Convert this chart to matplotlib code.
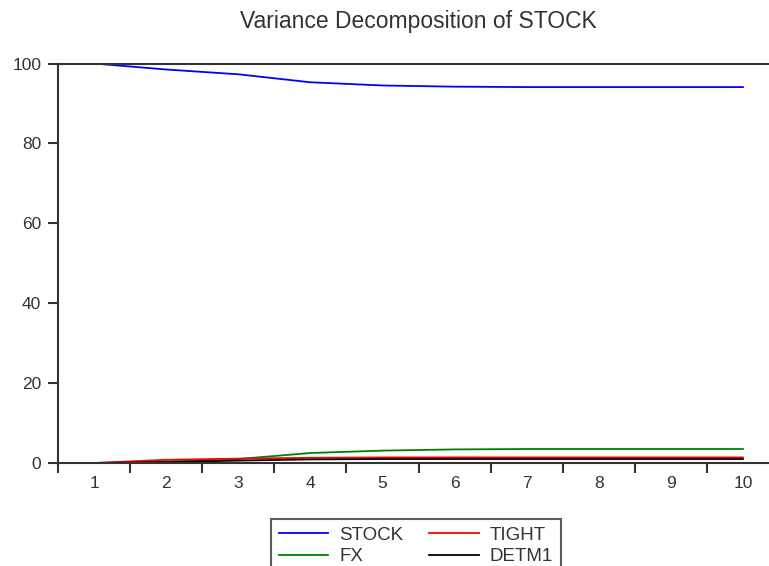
import numpy as np
import matplotlib
matplotlib.use('Agg')
import matplotlib.pyplot as plt
from matplotlib.ticker import FixedLocator, NullFormatter, FixedFormatter

plt.rcParams['font.family'] = ['Liberation Sans', 'DejaVu Sans']

periods = [1, 2, 3, 4, 5, 6, 7, 8, 9, 10]
stock = [100.0, 98.5, 97.3, 95.3, 94.5, 94.2, 94.1, 94.1, 94.1, 94.1]
fx = [0.0, 0.4, 1.0, 2.5, 3.1, 3.4, 3.5, 3.5, 3.5, 3.5]
tight = [0.0, 0.8, 1.1, 1.3, 1.4, 1.4, 1.4, 1.4, 1.4, 1.4]
detm1 = [0.0, 0.2, 0.6, 0.9, 1.0, 1.0, 1.0, 1.0, 1.0, 1.0]

series = [('STOCK', stock, '#0000ff'),
          ('FX', fx, '#008000'),
          ('TIGHT', tight, '#ff0000'),
          ('DETM1', detm1, '#000000')]

W, H = 769, 566
fig = plt.figure(figsize=(W / 100, H / 100), dpi=100)
ax = fig.add_axes([58 / W, 1 - 463 / H, (779 - 58) / W, (463 - 63.5) / H])

handles = []
for name, vals, col in series:
    ln, = ax.plot(periods, vals, color=col, lw=1.3, label=name)
    handles.append(ln)

ax.set_xlim(0.5, 10.5)
ax.set_ylim(0, 100)

# ticks sit between periods, labels sit on the periods
ax.xaxis.set_major_locator(FixedLocator(np.arange(0.5, 11, 1.0)))
ax.xaxis.set_major_formatter(NullFormatter())
ax.xaxis.set_minor_locator(FixedLocator(periods))
ax.xaxis.set_minor_formatter(FixedFormatter([str(p) for p in periods]))
ax.set_yticks([0, 20, 40, 60, 80, 100])

txt = '#333333'
ax.tick_params(axis='x', which='major', direction='out', length=7, width=1.5, color='#333333')
ax.tick_params(axis='x', which='minor', length=0, pad=9, labelsize=12.5, labelcolor=txt)
ax.tick_params(axis='y', direction='out', length=7, width=1.5, color='#333333',
               pad=5, labelsize=12.5, labelcolor=txt)

for side in ['left', 'bottom', 'top']:
    ax.spines[side].set_linewidth(1.5)
    ax.spines[side].set_color('#333333')
ax.spines['right'].set_visible(False)

ax.set_title('Variance Decomposition of STOCK', fontsize=16.5, color=txt, pad=25.5)

leg = fig.legend(handles, [h.get_label() for h in handles], ncol=2,
                 loc='upper left', bbox_to_anchor=(271 / W, 1 - 519 / H),
                 borderaxespad=0, fontsize=13.5, frameon=True, fancybox=False,
                 edgecolor='#333333', handlelength=2.65, handletextpad=0.6,
                 columnspacing=1.35, labelspacing=0.25, borderpad=0.4)
leg.get_frame().set_linewidth(1.5)
for t in leg.get_texts():
    t.set_color(txt)

fig.savefig('out.png', dpi=100)
